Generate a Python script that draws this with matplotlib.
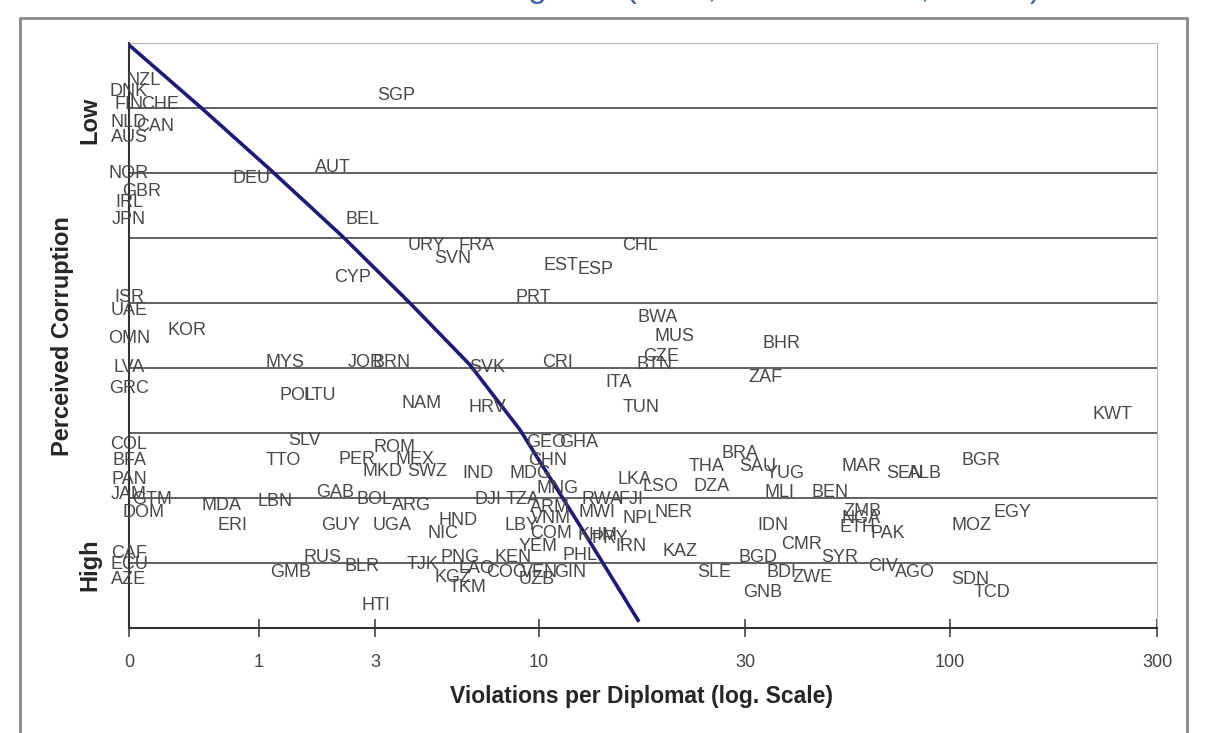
import numpy as np
import matplotlib
matplotlib.use('Agg')
import matplotlib.pyplot as plt
from matplotlib.patches import Rectangle
from matplotlib.ticker import NullLocator

# country codes, violations per diplomat, perceived corruption (0 = low, 9 = high)
countries = ['NZL', 'DNK', 'FIN', 'CHE', 'NLD', 'CAN', 'AUS', 'NOR', 'GBR', 'IRL', 'JPN', 'DEU', 'AUT', 'SGP', 'BEL',
             'URY', 'FRA', 'SVN', 'CHL', 'EST', 'ESP', 'PRT', 'CYP', 'ISR', 'UAE', 'OMN',
             'KOR', 'BWA', 'MUS', 'BHR', 'CZE', 'BTN', 'MYS', 'JOR', 'BRN', 'SVK', 'CRI', 'LVA', 'GRC',
             'ZAF', 'ITA', 'POL', 'LTU', 'NAM', 'HRV', 'TUN', 'KWT',
             'COL', 'SLV', 'ROM', 'GEO', 'GHA', 'BFA', 'TTO', 'PER', 'MEX', 'CHN', 'BRA', 'BGR',
             'THA', 'SAU', 'YUG', 'MAR', 'SEN', 'ALB', 'MKD', 'SWZ', 'IND', 'MDG', 'LKA', 'LSO', 'DZA', 'PAN',
             'MNG', 'MLI', 'BEN', 'JAM', 'GTM', 'MDA', 'LBN', 'GAB', 'BOL', 'ARG', 'DJI', 'TZA', 'RWA', 'FJI',
             'ARM', 'MWI', 'VNM', 'NPL', 'NER', 'DOM', 'ERI', 'GUY', 'UGA', 'HND', 'NIC', 'LBY', 'COM', 'KHM', 'PRY',
             'IRN', 'KAZ', 'IDN', 'ZMB', 'NGA', 'ETH', 'PAK', 'MOZ', 'EGY', 'YEM', 'CMR', 'SYR', 'BGD', 'PHL',
             'PNG', 'KEN', 'RUS', 'CAF', 'ECU', 'AZE', 'GMB', 'BLR', 'TJK', 'LAO', 'COG', 'VEN', 'GIN', 'KGZ',
             'UZB', 'TKM', 'HTI', 'SLE', 'BDI', 'ZWE', 'CIV', 'AGO', 'GNB', 'SDN', 'TCD']

violations = [0.08, 0, 0, 0.18, 0, 0.15, 0, 0, 0.07, 0, 0, 0.92, 2.11, 3.55, 2.72,
              4.51, 6.50, 5.47, 17.3, 11.3, 13.6, 9.6, 2.49, 0, 0, 0,
              0.36, 19.0, 20.8, 37.3, 19.3, 18.7, 1.34, 2.79, 3.44, 6.98, 11.1, 0, 0,
              33.8, 15.4, 1.51, 1.88, 4.34, 6.98, 17.4, 236.5,
              0, 1.63, 3.52, 10.4, 12.4, 0, 1.31, 2.59, 4.12, 10.5, 29.2, 117.9,
              24.6, 32.4, 38.0, 59.8, 76.8, 86.4, 3.18, 4.51, 6.55, 9.46, 16.8, 19.3, 25.2, 0,
              11.1, 36.9, 49.5, 0, 0.13, 0.64, 1.20, 2.15, 3.0, 4.02, 7.03, 8.96, 14.1, 16.5,
              10.6, 13.7, 10.7, 17.3, 20.6, 0.08, 0.74, 2.25, 3.44, 5.67, 5.08, 8.90, 10.7, 13.8, 14.7,
              16.5, 21.4, 35.4, 60.1, 59.4, 58.4, 69.6, 112.4, 139.1, 9.93, 42.0, 52.5, 32.4, 12.5,
              5.75, 8.36, 1.93, 0, 0, 0, 1.41, 2.70, 4.38, 6.50, 8.02, 10.05, 11.85, 5.47,
              9.86, 6.10, 3.02, 25.6, 37.3, 44.8, 67.6, 81.5, 33.4, 111.2, 125.0]

corruption = [0.58, 0.74, 0.94, 0.94, 1.22, 1.29, 1.46, 2.00, 2.29, 2.46, 2.71, 2.09, 1.91, 0.80, 2.71,
              3.11, 3.11, 3.31, 3.11, 3.43, 3.49, 3.91, 3.60, 3.91, 4.12, 4.54,
              4.42, 4.22, 4.52, 4.62, 4.82, 4.95, 4.92, 4.92, 4.92, 5.00, 4.92, 5.00, 5.31,
              5.14, 5.22, 5.43, 5.43, 5.54, 5.60, 5.60, 5.72,
              6.17, 6.11, 6.22, 6.14, 6.14, 6.42, 6.42, 6.40, 6.40, 6.43, 6.32, 6.43,
              6.51, 6.52, 6.62, 6.52, 6.62, 6.62, 6.60, 6.60, 6.62, 6.62, 6.72, 6.83, 6.83, 6.72,
              6.85, 6.92, 6.92, 6.94, 7.03, 7.12, 7.05, 6.92, 7.03, 7.12, 7.03, 7.03, 7.02, 7.03,
              7.14, 7.23, 7.31, 7.32, 7.23, 7.23, 7.43, 7.43, 7.43, 7.34, 7.55, 7.43, 7.54, 7.57, 7.62,
              7.75, 7.83, 7.42, 7.20, 7.31, 7.46, 7.54, 7.43, 7.23, 7.74, 7.72, 7.92, 7.92, 7.88,
              7.91, 7.91, 7.91, 7.85, 8.03, 8.26, 8.14, 8.06, 8.03, 8.08, 8.14, 8.14, 8.14, 8.22,
              8.25, 8.38, 8.65, 8.14, 8.15, 8.22, 8.06, 8.14, 8.45, 8.25, 8.45]

# fitted line
fit_violations = [0, 0.46, 1.14, 2.30, 3.96, 6.18, 8.78, 12.5, 17.1]
fit_corruption = [0.03, 0.98, 1.95, 2.98, 4.00, 4.95, 5.95, 7.42, 8.88]

tick_vals = [0, 1, 3, 10, 30, 100, 300]
tick_labels = ['0', '1', '3', '10', '30', '100', '300']

# the printed axis is log-like but the tick spacing is uneven
tick_space = [0, 130, 246, 410, 616, 821, 1028]
log_ticks = np.log10(1 + np.array(tick_vals, dtype=float))


def fwd(x):
    x = np.clip(np.asarray(x, dtype=float), 0, None)
    return np.interp(np.log10(1 + x), log_ticks, tick_space)


def inv(u):
    return 10 ** np.interp(u, tick_space, log_ticks) - 1


W, H = 1210, 733
fig = plt.figure(figsize=(W / 100, H / 100), dpi=100)
ax = fig.add_axes([129 / W, 1 - 628 / H, (1157 - 129) / W, (628 - 43) / H])

ax.set_xscale('function', functions=(fwd, inv))
ax.set_xlim(0, 300)
ax.set_ylim(9, 0)

ax.plot(fit_violations, fit_corruption, color='#1c1c78', lw=2.6, zorder=3)

for name, v, c in zip(countries, violations, corruption):
    ax.text(v, c, name, ha='center', va='center', fontsize=13,
            family=['Liberation Sans', 'DejaVu Sans'], color='#484848', zorder=4)

# horizontal grid
ax.set_yticks(np.arange(1, 9))
ax.yaxis.grid(True, color='#555555', lw=1.3)
ax.tick_params(axis='y', left=False, labelleft=False)

ax.set_xticks(tick_vals)
ax.set_xticklabels(tick_labels)
ax.xaxis.set_minor_locator(NullLocator())
ax.tick_params(axis='x', direction='inout', length=13, width=1.2, color='#444444',
               labelsize=13, labelcolor='#444444', pad=12)
for lab in ax.get_xticklabels():
    lab.set_family(['Liberation Sans', 'DejaVu Sans'])

ax.spines['left'].set_color('#333333')
ax.spines['bottom'].set_color('#333333')
ax.spines['left'].set_linewidth(1.5)
ax.spines['bottom'].set_linewidth(1.5)
ax.spines['top'].set_color('#b5b5b5')
ax.spines['right'].set_color('#b5b5b5')

# axis titles
fig.text(641 / W, 1 - 697 / H, 'Violations per Diplomat (log. Scale)', ha='center', va='center',
         fontsize=16.5, fontweight='bold', color='#262626', family=['Liberation Sans', 'DejaVu Sans'])
fig.text(62 / W, 1 - 336 / H, 'Perceived Corruption', rotation=90, ha='center', va='center',
         fontsize=17, fontweight='bold', color='#262626', family=['Liberation Sans', 'DejaVu Sans'])
fig.text(90 / W, 1 - 120 / H, 'Low', rotation=90, ha='center', va='center',
         fontsize=17, fontweight='bold', color='#262626', family=['Liberation Sans', 'DejaVu Sans'])
fig.text(90 / W, 1 - 565 / H, 'High', rotation=90, ha='center', va='center',
         fontsize=17, fontweight='bold', color='#262626', family=['Liberation Sans', 'DejaVu Sans'])

# title mostly cut off at the top of the screenshot (only descenders show)
fig.text(272 / W, 1 + 3 / H, 'Tickets and Rating Tool (NYC, 1997 to 2005, all UN)', ha='left',
         va='baseline', fontsize=24, color='#3d64a8', family=['Liberation Sans', 'DejaVu Sans'])

# outer frame of the slide
fig.add_artist(Rectangle((20 / W, -0.05), (1187 - 20) / W, 1.05 - 18 / H, transform=fig.transFigure,
                         fill=False, edgecolor='#8a8a8a', lw=2))

fig.savefig('out.png', dpi=100)
